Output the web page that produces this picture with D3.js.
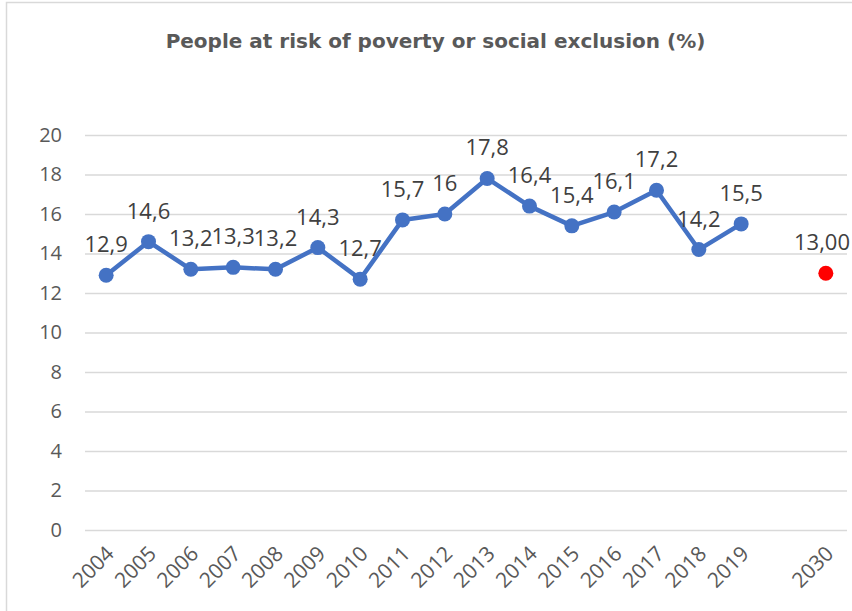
<!DOCTYPE html>
<html>
<head>
<meta charset="utf-8">
<script src="https://cdn.jsdelivr.net/npm/d3@7"></script>
<style>
  html, body { margin: 0; padding: 0; background: #fff; }
  svg { display: block; }
</style>
</head>
<body>
<svg id="chart" width="852" height="611"></svg>
<script>
// ---- data ----
const title = "People at risk of poverty or social exclusion (%)";
const categories = ["2004","2005","2006","2007","2008","2009","2010","2011","2012","2013","2014","2015","2016","2017","2018","2019","gap","2030"];
const categoryLabels = ["2004","2005","2006","2007","2008","2009","2010","2011","2012","2013","2014","2015","2016","2017","2018","2019","","2030"];
const years = ["2004","2005","2006","2007","2008","2009","2010","2011","2012","2013","2014","2015","2016","2017","2018","2019"];
const values = [12.9,14.6,13.2,13.3,13.2,14.3,12.7,15.7,16,17.8,16.4,15.4,16.1,17.2,14.2,15.5];
const valueLabels = ["12,9","14,6","13,2","13,3","13,2","14,3","12,7","15,7","16","17,8","16,4","15,4","16,1","17,2","14,2","15,5"];
const targetYear = ["2030"];
const targetValue = [13];
const targetLabel = ["13,00"];
const yTicks = [0,2,4,6,8,10,12,14,16,18,20];

// ---- layout ----
const svg = d3.select("#chart");
const W = 852, H = 611;
const plot = { left: 85, right: 847, top: 135, bottom: 530 };
const font = "'Open Sans', sans-serif";

// border
svg.append("rect")
  .attr("x", 6.5).attr("y", 2.5)
  .attr("width", W + 20).attr("height", H + 20)
  .attr("fill", "none").attr("stroke", "#d9d9d9").attr("stroke-width", 1.5);

const x = d3.scaleBand().domain(categories).range([plot.left, plot.right]).padding(0);
const cx = c => x(c) + x.bandwidth() / 2;
const y = d3.scaleLinear().domain([0, 20]).range([plot.bottom, plot.top]);

// title
svg.append("text")
  .attr("x", 435.5).attr("y", 48)
  .attr("text-anchor", "middle")
  .attr("font-family", "'DejaVu Sans', sans-serif")
  .attr("font-weight", "bold")
  .attr("font-size", 20)
  .attr("fill", "#595959")
  .text(title);

// y axis (gridlines + labels)
const yAxis = d3.axisLeft(y).tickValues(yTicks).tickSize(-(plot.right - plot.left)).tickPadding(23).tickFormat(d3.format("d"));
const gy = svg.append("g").attr("transform", `translate(${plot.left},0)`).call(yAxis);
gy.select(".domain").remove();
gy.selectAll(".tick line").attr("stroke", "#d9d9d9").attr("stroke-width", 1.5);
gy.selectAll(".tick text")
  .attr("font-family", font).attr("font-size", 20).attr("fill", "#595959");

// x axis labels
const xAxis = d3.axisBottom(x).tickSize(0).tickFormat((d, i) => categoryLabels[i]);
const gx = svg.append("g").attr("transform", `translate(0,${plot.bottom})`).call(xAxis);
gx.select(".domain").remove();
gx.selectAll(".tick text")
  .attr("font-family", font).attr("font-size", 21).attr("fill", "#595959")
  .attr("text-anchor", "end")
  .attr("dy", null).attr("y", 0)
  .attr("transform", "translate(9,25) rotate(-45)");

// line
const pts = years.map((c, i) => ({ c, v: values[i], l: valueLabels[i] }));
const line = d3.line().x(d => cx(d.c)).y(d => y(d.v));
svg.append("path").datum(pts)
  .attr("d", line)
  .attr("fill", "none").attr("stroke", "#4472C4")
  .attr("stroke-width", 4.5).attr("stroke-linejoin", "round");

svg.append("g").selectAll("circle").data(pts).join("circle")
  .attr("cx", d => cx(d.c)).attr("cy", d => y(d.v)).attr("r", 7.5)
  .attr("fill", "#4472C4");

svg.append("g").selectAll("text").data(pts).join("text")
  .attr("x", d => cx(d.c)).attr("y", d => y(d.v) - 23)
  .attr("text-anchor", "middle")
  .attr("font-family", font).attr("font-size", 22).attr("fill", "#404040")
  .text(d => d.l);

// target point
const tpts = targetYear.map((c, i) => ({ c, v: targetValue[i], l: targetLabel[i] }));
svg.append("g").selectAll("circle").data(tpts).join("circle")
  .attr("cx", d => cx(d.c)).attr("cy", d => y(d.v)).attr("r", 7.5)
  .attr("fill", "#FF0000");
svg.append("g").selectAll("text").data(tpts).join("text")
  .attr("x", W - 2).attr("y", d => y(d.v) - 23)
  .attr("text-anchor", "end")
  .attr("font-family", font).attr("font-size", 22).attr("fill", "#404040")
  .text(d => d.l);
</script>
</body>
</html>
